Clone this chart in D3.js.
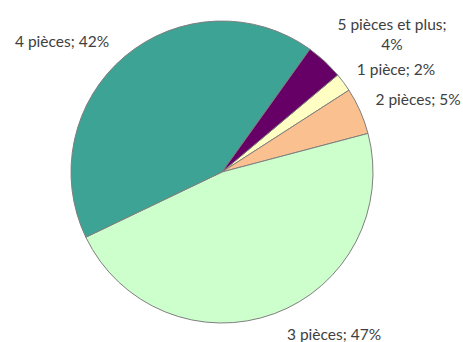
<!DOCTYPE html>
<html>
<head>
<meta charset="utf-8">
<script src="https://cdn.jsdelivr.net/npm/d3@7"></script>
<style>
  html, body { margin: 0; padding: 0; background: #fff; }
  svg { display: block; }
</style>
</head>
<body>
<svg id="chart" width="463" height="342"></svg>
<script>
// Data
const categories = ["1 pièce", "2 pièces", "3 pièces", "4 pièces", "5 pièces et plus"];
const values = [2, 5, 47, 42, 4];
const colors = ["#ffffc4", "#fac090", "#ccffcc", "#3da395", "#660066"];
const labelLines = [
  ["1 pièce; 2%"],
  ["2 pièces; 5%"],
  ["3 pièces; 47%"],
  ["4 pièces; 42%"],
  ["5 pièces et plus;", "4%"]
];

// Layout
const W = 463, H = 342;
const cx = 222, cy = 172, R = 151;
const startDeg = 50;
// label positions (text center x, first baseline y)
const labelPos = [
  [396, 75],
  [418, 105],
  [334, 340],
  [62, 47],
  [392, 30]
];

const svg = d3.select("#chart");
const g = svg.append("g").attr("transform", `translate(${cx},${cy})`);

const start = startDeg * Math.PI / 180;
const pie = d3.pie().sort(null).value(d => d).startAngle(start).endAngle(start + 2 * Math.PI);
const arc = d3.arc().innerRadius(0).outerRadius(R);
const arcs = pie(values);

g.selectAll("path.slice")
  .data(arcs)
  .join("path")
  .attr("class", "slice")
  .attr("d", arc)
  .attr("fill", (d, i) => colors[i])
  .attr("stroke", "#7f7f7f")
  .attr("stroke-width", 1)
  .attr("stroke-linejoin", "round");

const lbl = svg.append("g")
  .attr("font-family", "Lato, 'Open Sans', sans-serif")
  .attr("font-size", 15.5)
  .attr("fill", "#404040")
  .attr("text-anchor", "middle");

labelLines.forEach((lines, i) => {
  const t = lbl.append("text")
    .attr("x", labelPos[i][0])
    .attr("y", labelPos[i][1]);
  lines.forEach((ln, j) => {
    t.append("tspan")
      .attr("x", labelPos[i][0])
      .attr("dy", j === 0 ? 0 : 20)
      .text(ln);
  });
});
</script>
</body>
</html>
